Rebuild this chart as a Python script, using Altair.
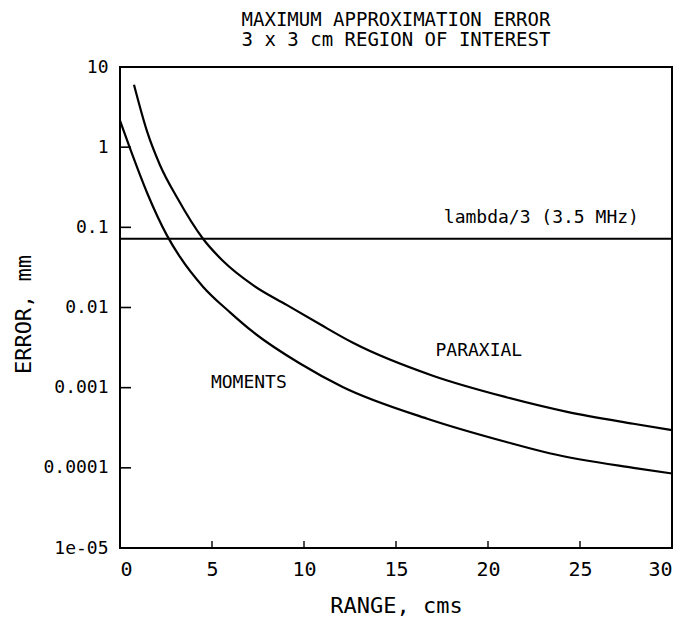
import math
import altair as alt
import pandas as pd

# ---- data ----
moments_x = [0, 0.54, 1.47, 2.55, 3.26, 4.51, 5.98, 7.23, 9.78, 12.1, 16.7, 21.0, 23.4, 27.9, 30]
moments_y = [2.14, 0.97, 0.27, 0.0794, 0.0427, 0.0182, 0.0087, 0.00495, 0.0020, 0.00102, 0.00041,
             0.00021, 0.000151, 0.0001, 0.000085]

paraxial_x = [0.76, 1.47, 2.17, 3.10, 4.51, 5.60, 7.23, 9.08, 10.87, 12.66, 17.0, 21.0, 24.3, 27.9, 30]
paraxial_y = [6.0, 1.57, 0.60, 0.235, 0.072, 0.038, 0.019, 0.0107, 0.00617, 0.00363, 0.00141,
              0.00076, 0.00050, 0.000355, 0.000295]

lambda_level = [0.072]

xtick_values = [0, 5, 10, 15, 20, 25, 30]
ytick_values = [1e-05, 0.0001, 0.001, 0.01, 0.1, 1, 10]
ytick_labels = ["1e-05", "0.0001", "0.001", "0.01", "0.1", "1", "10"]

label_texts = ["lambda/3 (3.5 MHz)", "PARAXIAL", "MOMENTS"]
label_x = [22.9, 19.5, 7.0]
label_y = [0.13, 0.0029, 0.00115]

title_lines = ["MAXIMUM APPROXIMATION ERROR", "3 x 3 cm REGION OF INTEREST"]

FONT = "DejaVu Sans Mono"
W, H = 552, 481

curves = pd.concat(
    [
        pd.DataFrame({"x": moments_x, "y": moments_y, "series": "MOMENTS"}),
        pd.DataFrame({"x": paraxial_x, "y": paraxial_y, "series": "PARAXIAL"}),
    ],
    ignore_index=True,
)

xscale = alt.Scale(domain=[0, 30], nice=False, zero=False)
yscale = alt.Scale(type="log", domain=[1e-05, 10], nice=False)

# label expression built from the tick label lists
expr = "''"
for v, lab in zip(ytick_values, ytick_labels):
    expr = f"abs(log(datum.value)/LN10 - ({math.log10(v):.4f})) < 0.01 ? '{lab}' : " + expr

x_axis = alt.Axis(
    values=xtick_values, ticks=False, domain=False, grid=False,
    labelFont=FONT, labelFontSize=20, labelPadding=11, labelColor="black",
    title="RANGE, cms", titleFont=FONT, titleFontSize=22, titleFontWeight="normal",
    titleColor="black", titleY=57, titleBaseline="middle",
)
y_axis = alt.Axis(
    values=ytick_values, ticks=False, domain=False, grid=False,
    labelFont=FONT, labelFontSize=18, labelPadding=12, labelColor="black",
    labelExpr=expr,
    title="ERROR, mm", titleFont=FONT, titleFontSize=22, titleFontWeight="normal",
    titleColor="black", titleX=-97, titleY=247, titleBaseline="middle", titleAlign="center",
    titleAngle=270,
)

lines = alt.Chart(curves).mark_line(
    color="black", strokeWidth=2.2, interpolate="monotone"
).encode(
    x=alt.X("x:Q", scale=xscale, axis=x_axis),
    y=alt.Y("y:Q", scale=yscale, axis=y_axis),
    detail="series:N",
)

lam = alt.Chart(pd.DataFrame({"y": lambda_level})).mark_rule(
    color="black", strokeWidth=2.2
).encode(y=alt.Y("y:Q", scale=yscale))

yt = alt.Chart(pd.DataFrame({"y": ytick_values})).mark_rule(
    color="black", strokeWidth=1.6
).encode(y=alt.Y("y:Q", scale=yscale), x=alt.value(0), x2=alt.value(11))

xt = alt.Chart(pd.DataFrame({"x": xtick_values})).mark_rule(
    color="black", strokeWidth=1.4
).encode(x=alt.X("x:Q", scale=xscale), y=alt.value(H), y2=alt.value(H - 7))

labels = alt.Chart(pd.DataFrame({"t": label_texts, "x": label_x, "y": label_y})).mark_text(
    font=FONT, fontSize=18, color="black", align="center", baseline="middle"
).encode(
    x=alt.X("x:Q", scale=xscale),
    y=alt.Y("y:Q", scale=yscale),
    text="t:N",
)

chart = alt.layer(lines, lam, yt, xt, labels).properties(
    width=W,
    height=H,
    title=alt.TitleParams(
        text=title_lines, font=FONT, fontSize=19, fontWeight="normal", color="black",
        anchor="middle", lineHeight=20, offset=8,
    ),
    autosize=alt.AutoSizeParams(type="none"),
    padding={"left": 112, "top": 59, "right": 5, "bottom": 72},
).configure(
    background="white",
    view=alt.ViewConfig(stroke="black", strokeWidth=2),
)

chart.save("out.html", embed_options={"renderer": "svg", "actions": False})
